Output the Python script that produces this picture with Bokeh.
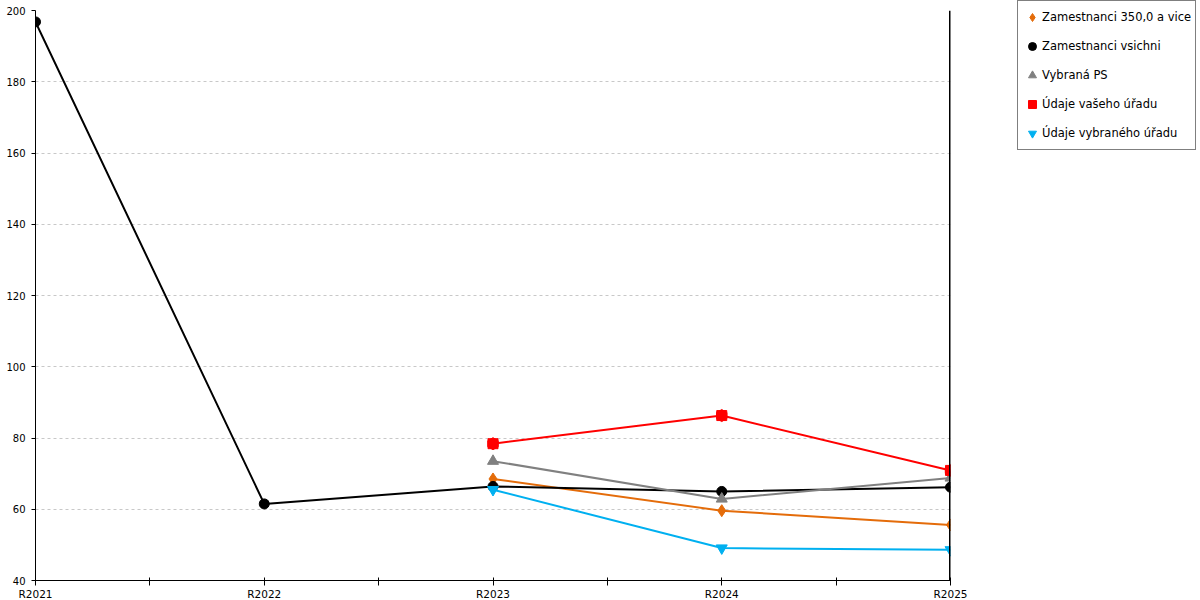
import math
from bokeh.plotting import figure
from bokeh.models import (Range1d, FixedTicker, Legend, LegendItem, Span,
                          ColumnDataSource)
from bokeh.embed import file_html
from bokeh.resources import INLINE

nan = float("nan")

years = ["R2021", "R2022", "R2023", "R2024", "R2025"]
zam_350 = [nan, nan, 68.5, 59.6, 55.6]
zam_vsichni = [196.8, 61.5, 66.4, 65.0, 66.2]
vybrana_ps = [nan, nan, 73.5, 62.9, 68.8]
udaje_vaseho = [nan, nan, 78.4, 86.3, 70.9]
udaje_vybraneho = [nan, nan, 65.5, 49.1, 48.6]
y_ticks = [40, 60, 80, 100, 120, 140, 160, 180, 200]

labels = ["Zamestnanci 350,0 a vice", "Zamestnanci vsichni", "Vybraná PS",
          "Údaje vašeho úřadu", "Údaje vybraného úřadu"]
colors = ["#E46C0A", "#000000", "#808080", "#FF0000", "#00B0F0"]

xs = list(range(len(years)))

p = figure(frame_width=915, frame_height=570, output_backend="svg",
           toolbar_location=None,
           x_range=Range1d(0, len(years) - 1), y_range=Range1d(40, 200),
           min_border_left=35, min_border_right=250, min_border_top=10,
           min_border_bottom=20)
p.outline_line_color = None
p.background_fill_color = "white"
p.border_fill_color = "white"

# axes
xa = p.xaxis[0]
xa.ticker = FixedTicker(ticks=xs, minor_ticks=[i + 0.5 for i in xs[:-1]])
xa.major_label_overrides = {i: y for i, y in enumerate(years)}
xa.axis_line_color = "black"
xa.major_tick_line_color = "black"
xa.minor_tick_line_color = "black"
xa.major_tick_in = 3
xa.major_tick_out = 5
xa.minor_tick_in = 3
xa.minor_tick_out = 5
xa.major_label_standoff = 2
xa.major_label_text_font = "DejaVu Sans"
xa.major_label_text_font_size = "10.5px"
xa.major_label_text_color = "black"

ya = p.yaxis[0]
ya.ticker = FixedTicker(ticks=y_ticks, minor_ticks=[])
ya.axis_line_color = "black"
ya.major_tick_line_color = "black"
ya.major_tick_in = 0
ya.major_tick_out = 4
ya.major_label_standoff = 6
ya.major_label_text_font = "DejaVu Sans"
ya.major_label_text_font_size = "10px"
ya.major_label_text_color = "black"

# right edge line (clipped to the frame, so only its inner half shows)
p.add_layout(Span(location=len(years) - 1, dimension="height",
                  line_color="black", line_width=3))

p.xgrid.grid_line_color = None
p.ygrid.grid_line_color = "#C8C8C8"
p.ygrid.grid_line_dash = "3 3"
p.ygrid.grid_line_width = 1

items = []
series = [zam_350, zam_vsichni, vybrana_ps, udaje_vaseho, udaje_vybraneho]
for i, (vals, lab, col) in enumerate(zip(series, labels, colors)):
    src = ColumnDataSource(dict(x=xs, y=vals))
    p.line("x", "y", source=src, line_color=col, line_width=2)
    rs = []
    if i == 0:
        rs.append(p.scatter("x", "y", source=src, marker="diamond", size=12,
                            fill_color=col, line_color=col))
    elif i == 1:
        rs.append(p.scatter("x", "y", source=src, marker="circle", size=10,
                            fill_color=col, line_color=col))
    elif i == 2:
        rs.append(p.scatter("x", "y", source=src, marker="triangle", size=11,
                            fill_color=col, line_color=col))
    elif i == 3:
        rs.append(p.scatter("x", "y", source=src, marker="hex", size=12,
                            angle=math.pi / 2, fill_color=col, line_color=col))
        rs.append(p.scatter("x", "y", source=src, marker="square", size=10,
                            fill_color=col, line_color=col))
    else:
        rs.append(p.scatter("x", "y", source=src, marker="inverted_triangle",
                            size=11, fill_color=col, line_color=col))
    items.append(LegendItem(label=lab, renderers=rs))

legend = Legend(items=items, location=(67, 430))
legend.label_text_font = "DejaVu Sans"
legend.label_text_font_size = "11.5px"
legend.label_text_color = "black"
legend.glyph_width = 20
legend.glyph_height = 24
legend.spacing = 5
legend.padding = 4
legend.margin = 0
legend.label_standoff = 0
legend.border_line_color = "black"
legend.border_line_width = 1
legend.background_fill_color = "white"
legend.background_fill_alpha = 1
p.add_layout(legend, "right")

open("out.html", "w").write(file_html(p, INLINE))
